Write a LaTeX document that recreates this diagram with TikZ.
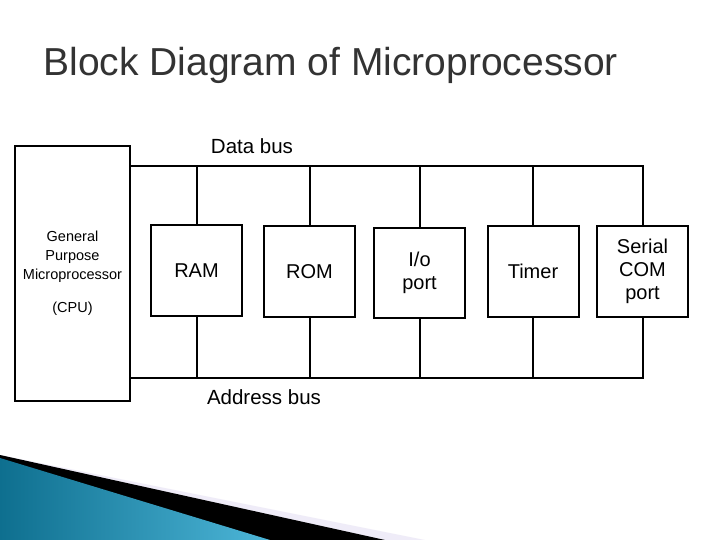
\documentclass[tikz,border=0pt]{standalone}
\usepackage{fontspec}
\setmainfont{Liberation Sans}
\begin{document}
\begin{tikzpicture}[x=1pt,y=-1pt,
  blk/.style={draw,line width=2pt,minimum width=91pt,minimum height=90pt,align=center,font=\fontsize{20}{23}\selectfont,inner sep=0pt},
  bus/.style={line width=2pt},
  lbl/.style={font=\fontsize{20.5}{22}\selectfont}]
\useasboundingbox (0,0) rectangle (720,540);
\fill[white] (0,0) rectangle (720,540);
% decoration
\definecolor{tealA}{HTML}{0E6F8F}
\definecolor{tealB}{HTML}{4DB6D8}
\fill[cyan!8!blue!6] (0,455) -- (425,540) -- (0,540) -- cycle;
\fill[black] (0,455) -- (385,540) -- (0,540) -- cycle;
\shade[left color=tealA, right color=tealB] (0,458) -- (270,540) -- (0,540) -- cycle;
\node[anchor=west,text=black!80,font=\fontsize{39}{44}\selectfont] (title) at (40,65) {Block Diagram of Microprocessor};
\node[draw,line width=2pt,minimum width=115pt,minimum height=255pt,anchor=north west,align=center,font=\fontsize{14.5}{19}\selectfont,inner sep=0pt] (cpu) at (14,145) {General\\Purpose\\Microprocessor\\[14pt](CPU)};
\node[blk] (ram) at (196.5,270.5) {RAM};
\node[blk] (rom) at (309.5,271.5) {ROM};
\node[blk] (io) at (419.5,273) {I/o\\port};
\node[blk] (tim) at (533,271.5) {Timer};
\node[blk] (ser) at (642.5,271.5) {Serial\\COM\\port};
\coordinate (d0) at (cpu.east |- 0,166);
\coordinate (d1) at (ser.north |- 0,166);
\coordinate (a0) at (cpu.east |- 0,378);
\coordinate (a1) at (ser.south |- 0,378);
\draw[bus] (d0) -- (d1) -- (ser.north);
\draw[bus] (a0) -- (a1) -- (ser.south);
\foreach \n in {ram,rom,io,tim}{
  \draw[bus] (\n.north) -- (\n.north |- d0);
  \draw[bus] (\n.south) -- (\n.south |- a0);
}
\node[lbl] (db) at (252,146) {Data bus};
\node[lbl] (ab) at (264,397) {Address bus};
\end{tikzpicture}
\end{document}
